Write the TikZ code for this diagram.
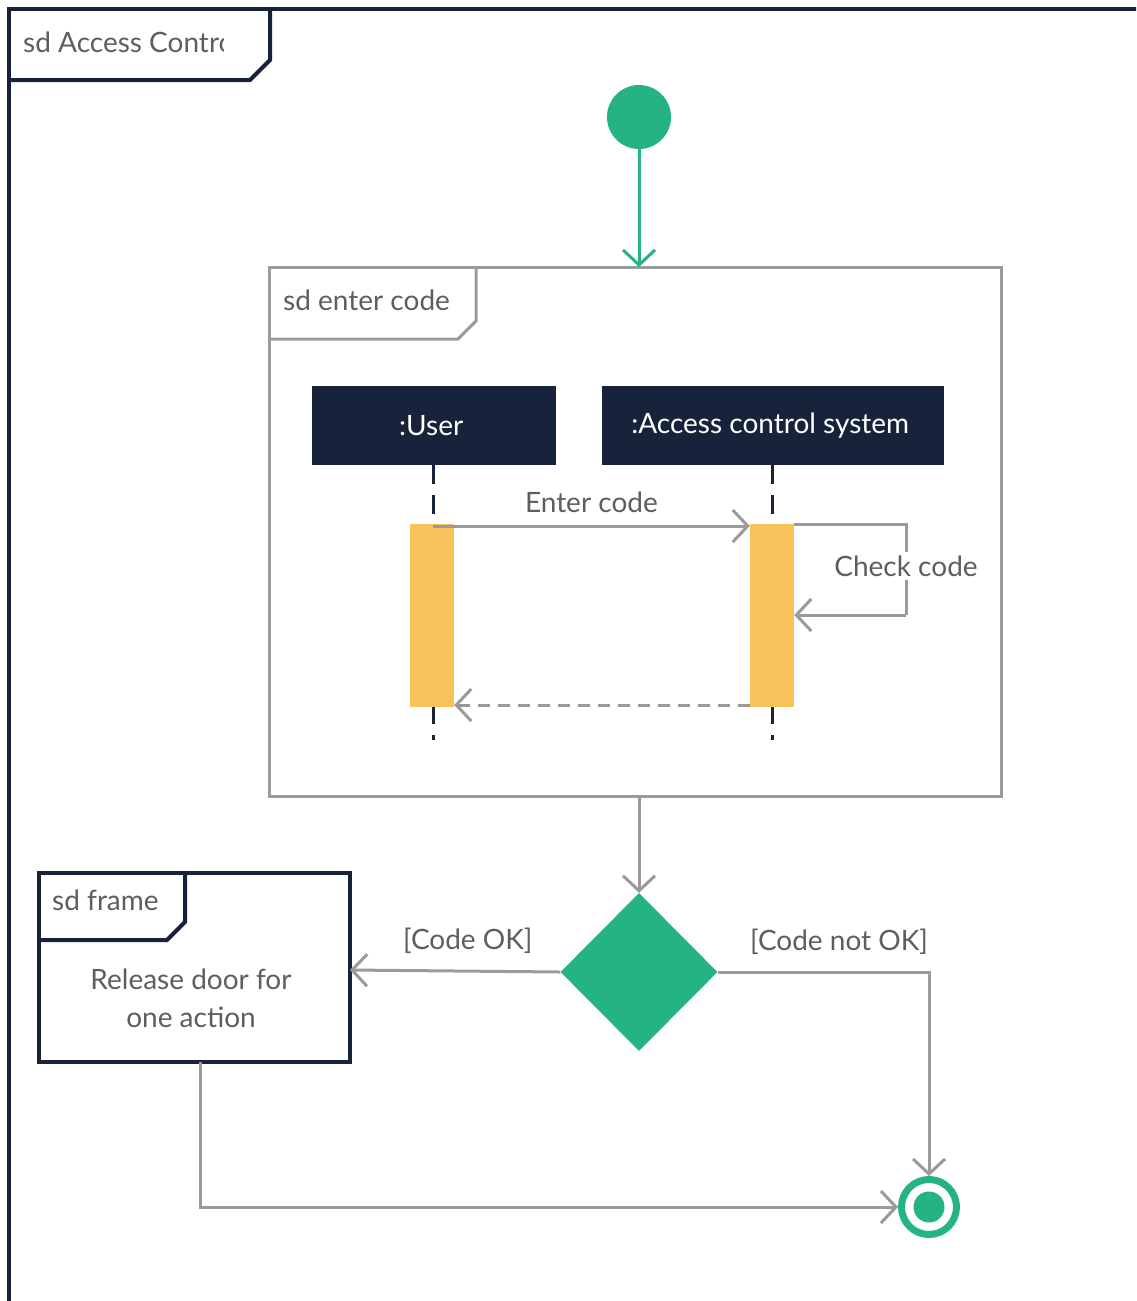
\documentclass[tikz,border=0pt]{standalone}
\usepackage{fontspec}
\setmainfont{Lato}
\usetikzlibrary{arrows.meta,shapes.geometric,positioning}

\definecolor{navy}{HTML}{17233B}
\definecolor{umlgreen}{HTML}{25B386}
\definecolor{linegray}{HTML}{9A9A9A}
\definecolor{txtgray}{HTML}{5E5E5E}
\definecolor{actyellow}{HTML}{F7C25A}

\tikzset{
	lbl/.style={text=txtgray, font=\fontsize{28}{38}\selectfont, inner sep=2pt},
	barb/.style={-{Straight Barb[length=15pt,width=32pt]}},
	conn/.style={draw=linegray, line width=3pt, barb},
	lifebox/.style={fill=navy, text=white, font=\fontsize{28}{34}\selectfont, inner sep=0pt, anchor=north west},
	lifeline/.style={draw=navy, line width=3pt, dash pattern=on 19pt off 11pt},
	actbar/.style={fill=actyellow, draw=none, inner sep=0pt, minimum width=44pt, minimum height=183pt, anchor=north},
	decision/.style={diamond, fill=umlgreen, draw=none, inner sep=0pt, minimum width=157pt, minimum height=158pt},
}

\begin{document}
\begin{tikzpicture}[x=1pt, y=-1pt]

	\useasboundingbox (0,0) rectangle (1136,1301);
	\clip (0,0) rectangle (1136,1301);
	\fill[white] (0,0) rectangle (1136,1301);

	% outer frame
	\draw[navy, line width=4pt] (1150,9) -- (9,9) -- (9,1320);
	\draw[navy, line width=4pt] (9,80) -- (250,80) -- (270,60) -- (270,9);
	\begin{scope}
		\clip (9,9) rectangle (223,80);
		\node[lbl, anchor=west] (outertitle) at (21,42) {sd Access Control};
	\end{scope}

	% start
	\node[circle, fill=umlgreen, minimum size=64pt, inner sep=0pt] (start) at (639,117) {};

	% enter code frame
	\draw[linegray, line width=3pt] (269,267) rectangle (1001,796);
	\draw[linegray, line width=3pt] (269,339) -- (458,339) -- (476,321) -- (476,267);
	\node[lbl, anchor=west] (entertitle) at (281,300) {sd enter code};
	\coordinate (entertop) at (639,267);
	\coordinate (enterbot) at (639,796);

	\draw[umlgreen, line width=3pt, barb] (start) -- (entertop);

	% lifelines
	\node[lifebox, minimum width=244pt, minimum height=79pt] (user) at (312,386) {\hspace*{-6pt}:User};
	\node[lifebox, minimum width=342pt, minimum height=79pt] (acs) at (602,386) {\hspace*{-6pt}:Access control system};
	\coordinate (userend) at (433,740);
	\coordinate (acsend) at (772,740);
	\draw[lifeline] (user.south -| userend) -- (userend);
	\draw[lifeline] (acs.south -| acsend) -- (acsend);

	\node[actbar] (userbar) at (432,524) {};
	\node[actbar] (acsbar) at (772,524) {};

	% messages
	\draw[conn] (433,526) -- (acsbar.west |- 0,526)
		node[lbl, midway, above=10pt] (entermsg) {Enter code};
	\coordinate (selfa) at (906,524);
	\coordinate (selfb) at (906,615);
	\draw[linegray, line width=3pt] (acsbar.east |- selfa) -- (selfa) -- (selfb);
	\draw[conn] (selfb) -- (acsbar.east |- selfb);
	\node[lbl, fill=white, inner sep=4pt] (checkmsg) at (906,566) {Check code};
	\draw[conn, dash pattern=on 12pt off 8pt] (acsbar.west |- 0,705) -- (userbar.east |- 0,705);

	% decision
	\node[decision] (dec) at (639,972) {};
	\draw[conn] (enterbot) -- (dec.north);

	% sd frame
	\draw[navy, line width=4pt] (39,873) rectangle (350,1062);
	\draw[navy, line width=4pt] (39,940) -- (167,940) -- (185,922) -- (185,873);
	\node[lbl, anchor=west] (frametitle) at (50,900) {sd frame};
	\node[lbl, align=center] (release) at (191,998) {Release door for\\one action};
	\coordinate (frameright) at (350,970);
	\coordinate (framebot) at (200,1062);

	% final
	\node[circle, draw=umlgreen, line width=7pt, fill=white, minimum size=55pt, inner sep=0pt] (final) at (929,1207) {};
	\node[circle, fill=umlgreen, minimum size=31pt, inner sep=0pt] (finalin) at (final.center) {};

	\draw[conn] (dec.west) -- (frameright)
		node[lbl, pos=0.44, above=14pt] (okmsg) {[Code OK]};
	\draw[conn] (dec.east) -- (final.north |- dec.east) -- (final.north)
		node[lbl, pos=0.0, above=14pt, xshift=-90pt] (notokmsg) {[Code not OK]};
	\draw[conn] (framebot) |- (final.west);

\end{tikzpicture}
\end{document}
